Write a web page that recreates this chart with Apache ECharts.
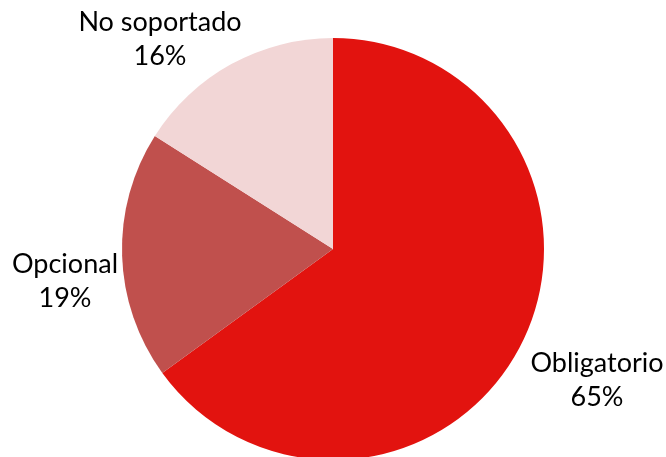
<!DOCTYPE html>
<html>
<head>
<meta charset="utf-8">
<style>
  html, body { margin: 0; padding: 0; background: #fff; }
  #chart { width: 666px; height: 457px; }
</style>
<script src="https://cdn.jsdelivr.net/npm/echarts@6/dist/echarts.min.js"></script>
</head>
<body>
<div id="chart"></div>
<script>
// Soporte de la característica
const categories = ['Obligatorio', 'Opcional', 'No soportado'];
const percents = [65, 19, 16];

const sliceColors = ['#E2130F', '#C0504D', '#F2D6D6'];
// label anchor points (centre of each two-line label)
const labelSpots = [[597, 380], [65, 281], [160, 39]];

const chart = echarts.init(document.getElementById('chart'), null, { renderer: 'canvas' });

chart.setOption({
  animation: false,
  backgroundColor: '#ffffff',
  series: [{
    type: 'pie',
    center: [333, 249],
    radius: [0, 211],
    startAngle: 90,
    clockwise: true,
    silent: true,
    data: categories.map((name, i) => ({
      name: name,
      value: percents[i],
      itemStyle: { color: sliceColors[i] }
    })),
    label: {
      show: true,
      position: 'outside',
      formatter: p => p.name + '\n' + p.value + '%',
      fontFamily: 'Lato',
      fontSize: 27,
      lineHeight: 34,
      color: '#000',
      align: 'center',
      overflow: 'none',
      width: 200
    },
    labelLine: { show: false },
    labelLayout: p => ({
      x: labelSpots[p.dataIndex][0],
      y: labelSpots[p.dataIndex][1],
      align: 'center',
      verticalAlign: 'middle'
    })
  }]
});
</script>
</body>
</html>
